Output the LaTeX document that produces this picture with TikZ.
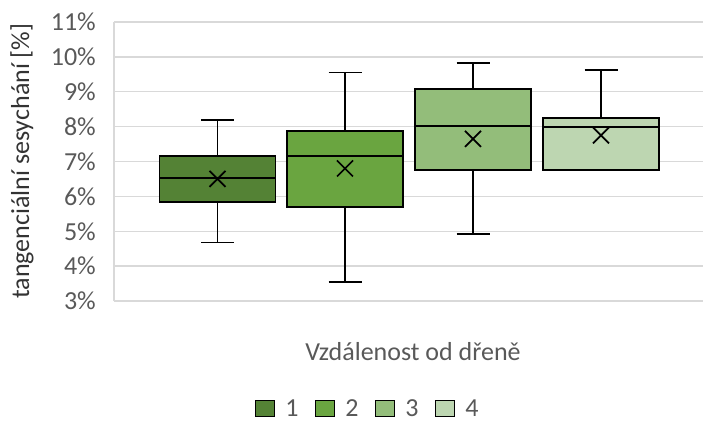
\documentclass[tikz,border=0pt]{standalone}
\usepackage{fontspec}
\setmainfont{Carlito}
\usepackage{tikz}
\usepackage{color}
\usetikzlibrary{positioning}
\definecolor{zelena1}{RGB}{84,130,53}
\definecolor{zelena2}{RGB}{106,165,64}
\definecolor{zelena3}{RGB}{147,189,122}
\definecolor{zelena4}{RGB}{189,214,177}
\definecolor{mrizka}{RGB}{217,217,217}
\definecolor{popisek}{RGB}{89,89,89}
\tikzset{
  popis/.style = {font=\fontsize{26}{30}\selectfont, text=popisek,
    inner sep=3pt},% popisky os
  car/.style = {draw=mrizka, line width=1.3pt},% mrizka grafu
  krabice/.style = {draw=black, line width=1.8pt},% krabice, median, vousy
  prumer/.style = {draw=black, line width=1.7pt},% krizek prumeru
  legenda/.style = {rectangle, draw=black, line width=1.2pt,
    minimum width=19pt, minimum height=16pt, inner sep=0pt}% ctverecek legendy
}

\begin{document}
\begin{tikzpicture}[x=1pt,y=34.88pt]
\useasboundingbox (0,-0.440) rectangle (704,11.630);
% mrizka a osa y
\foreach \p in {3,...,11}{
  \draw[car] (114,\p) -- (703,\p);
  \node[popis, anchor=east] (y\p) at (99,\p) {\p\%};
}
\draw[car] (114,3) -- (114,11);
\node[popis, text=black!80, rotate=90] (ytitul) at (22,7.01)
  {tangenciální sesychání [\%]};
\node[popis] (xtitul) at (413,1.54) {Vzdálenost od dřeně};
% krabice
\foreach \jm/\x/\lo/\qa/\med/\qb/\hi/\mean in
  {1/217.5/4.68/5.83/6.52/7.16/8.20/6.50,
   2/345/3.55/5.70/7.16/7.87/9.55/6.80,
   3/473/4.93/6.76/8.02/9.07/9.82/7.65,
   4/601/6.75/6.75/8.00/8.24/9.63/7.75}{
  \draw[krabice] (\x,\lo) -- (\x,\hi);
  \draw[krabice] (\x-16.5,\lo) -- (\x+16.5,\lo);
  \draw[krabice] (\x-16.5,\hi) -- (\x+16.5,\hi);
  \filldraw[krabice, fill=zelena\jm] (\x-58,\qa) rectangle (\x+58,\qb);
  \draw[krabice] (\x-58,\med) -- (\x+58,\med);
  \draw[prumer] (\x,\mean) +(-8pt,-8pt) -- +(8pt,8pt)
    +(-8pt,8pt) -- +(8pt,-8pt);
}
% legenda
\foreach \jm/\x in {1/265,2/325,3/385,4/445}{
  \node[legenda, fill=zelena\jm] (ctv\jm) at (\x,-0.08) {};
  \node[popis, right=10pt of ctv\jm, inner sep=0pt] (leg\jm) {\jm};
}
\end{tikzpicture}
\end{document}
